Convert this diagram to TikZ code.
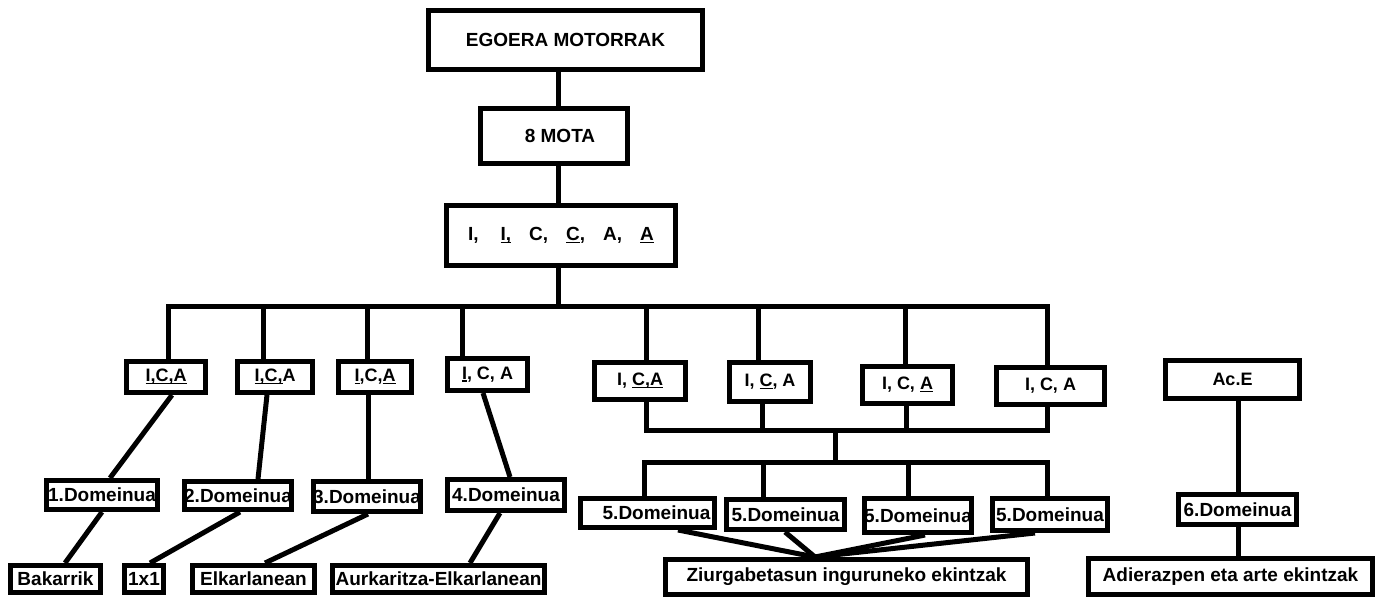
\documentclass[tikz,border=0pt]{standalone}
\usepackage{fontspec}
\setmainfont{Liberation Sans}
\newcommand{\uln}[1]{\setbox0\hbox{#1}\rlap{\rule[-2.5pt]{\wd0}{1.6pt}}\box0}
\begin{document}
\begin{tikzpicture}[x=1pt,y=-1pt,line width=5pt,
	box/.style={draw,line width=5pt,inner sep=0pt,font=\fontsize{19}{21}\selectfont\bfseries},
	ica/.style={box,font=\fontsize{18}{20}\selectfont\bfseries}]
	\useasboundingbox (0,0) rectangle (1377,598);
	\node[box,minimum width=274,minimum height=59] (top) at (565.5,40) {EGOERA MOTORRAK};
	\node[box,minimum width=147,minimum height=55] (mota) at (554,136) {\hspace{12pt}8 MOTA};
	\node[box,minimum width=229,minimum height=60] (tri) at (561,235.5)
		{I,\hspace{22pt}\uln{I,}\hspace{18pt}C,\hspace{18pt}\uln{C},\hspace{18pt}A,\hspace{18pt}\uln{A}};
	\node[ica,minimum width=79,minimum height=31] (ica1) at (166,377) {\uln{I,C,A}};
	\node[ica,minimum width=75,minimum height=31] (ica2) at (275,377) {\uln{I,C,}A};
	\node[ica,minimum width=73,minimum height=31] (ica3) at (375,377) {\uln{I},C,\uln{A}};
	\node[ica,minimum width=80,minimum height=32] (ica4) at (487.5,374.5) {\uln{I}, C, A};
	\node[ica,minimum width=91,minimum height=37] (ica5) at (640,381) {I, \uln{C,} \uln{A}};
	\node[ica,minimum width=81,minimum height=39] (ica6) at (770,382) {I, \uln{C}, A};
	\node[ica,minimum width=90,minimum height=37] (ica7) at (907.5,385) {I, C, \uln{A}};
	\node[ica,minimum width=108,minimum height=37] (ica8) at (1050.5,386) {I, C, A};
	\node[ica,minimum width=134,minimum height=38] (ace) at (1232.5,379.5) {Ac.E};
	\node[box,minimum width=111,minimum height=29] (dom1) at (102,495) {1.Domeinua};
	\node[box,minimum width=107,minimum height=28] (dom2) at (238,495.5) {2.Domeinua};
	\node[box,minimum width=103,minimum height=30] (dom3) at (367,496.5) {3.Domeinua};
	\node[box,minimum width=117,minimum height=31] (dom4) at (506,495) {4.Domeinua};
	\node[box,minimum width=134,minimum height=29] (domA) at (647.5,513) {\hspace{18pt}5.Domeinua};
	\node[box,minimum width=118,minimum height=30] (domB) at (785.5,514.5) {5.Domeinua};
	\node[box,minimum width=107,minimum height=34] (domC) at (918,515.5) {5.Domeinua};
	\node[box,minimum width=115,minimum height=32] (domD) at (1050,514.5) {5.Domeinua};
	\node[box,minimum width=118,minimum height=30] (dom6) at (1237.5,509.5) {6.Domeinua};
	\node[box,minimum width=90,minimum height=27] (bak) at (55.5,579) {Bakarrik};
	\node[box,minimum width=39,minimum height=27] (onex) at (144,579) {1x1};
	\node[box,minimum width=122,minimum height=27] (elk) at (253.5,579) {Elkarlanean};
	\node[box,minimum width=212,minimum height=27] (aur) at (438.5,579) {Aurkaritza-Elkarlanean};
	\node[box,minimum width=362,minimum height=35] (ziu) at (846.5,577) {Ziurgabetasun inguruneko ekintzak};
	\node[box,minimum width=284,minimum height=36] (adi) at (1230.5,576.5) {Adierazpen eta arte ekintzak};
	\coordinate (spine) at (558,0);
	\coordinate (bus) at (558,306);
	\coordinate (busb) at (835,430);
	\coordinate (busc) at (835,462);
	\draw (top.south -| spine) -- (mota.north -| spine)
		  (mota.south -| spine) -- (tri.north -| spine)
		  (tri.south -| spine) -- (bus);
	\draw ([xshift=2]ica1.north) |- (bus) -| ([xshift=-3.5]ica8.north);
	\foreach \n/\dx in {2/-12,3/-8,4/-25.5,5/6,6/-12,7/-2.5}
		\draw ([xshift=\dx]ica\n.north) |- (bus);
	\draw ([xshift=6]ica5.south) |- (busb) -| ([xshift=-3.5]ica8.south);
	\foreach \n/\dx in {6/-8,7/-1.5}
		\draw ([xshift=\dx]ica\n.south) |- (busb);
	\draw (busb) -- (busc);
	\draw ([xshift=-3.5]domA.north) |- (busc) -| ([xshift=-3]domD.north);
	\foreach \n/\dx in {B/-22.5,C/-10}
		\draw ([xshift=\dx]dom\n.north) |- (busc);
	\foreach \a/\da/\b/\db in {ica1/6/dom1/8,ica2/-8/dom2/20,ica3/-7/dom3/1,ica4/-4.5/dom4/4,
			dom1/0/bak/9.5,dom2/2/onex/6,dom3/1/elk/11.5,dom4/-6/aur/31.5,
			domA/30.5/ziu/-31.5,domB/-0.5/ziu/-31.5,domC/7/ziu/-31.5,domD/-15/ziu/-31.5,
			ace/5.5/dom6/0.5,dom6/0.5/adi/7.5}
		\draw ([xshift=\da]\a.south) -- ([xshift=\db]\b.north);
\end{tikzpicture}
\end{document}
